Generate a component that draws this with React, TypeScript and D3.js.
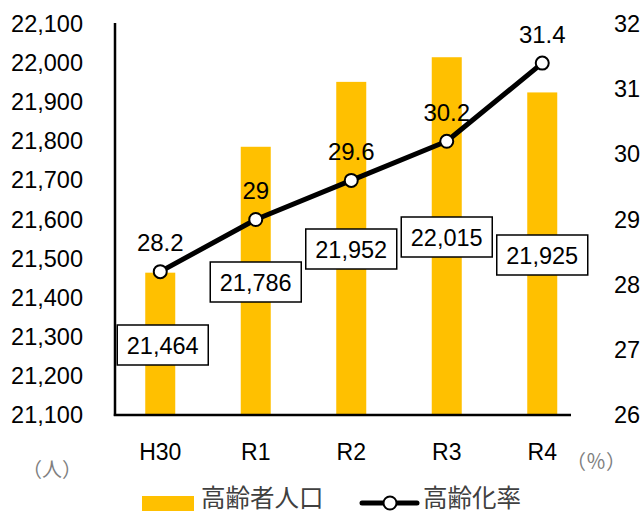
import React from "react";
import * as d3 from "d3";

const categories = ["H30", "R1", "R2", "R3", "R4"];
const population = [21464, 21786, 21952, 22015, 21925];
const agingRate = [28.2, 29, 29.6, 30.2, 31.4];
const leftTicks = [21100, 21200, 21300, 21400, 21500, 21600, 21700, 21800, 21900, 22000, 22100];
const rightTicks = [26, 27, 28, 29, 30, 31, 32];
// manual label box centre (y, px) as in the reference
const barLabelY = [345, 282, 249, 237, 255];

const W = 643;
const H = 513;
const NUM_FONT = "'Liberation Sans', Arial, sans-serif";
const JP_FONT = "'Noto Sans CJK JP', sans-serif";
const BAR = "#FFC000";

export default function App() {
  const x = d3.scaleBand<string>().domain(categories).range([112.5, 590]).padding(0);
  const yL = d3.scaleLinear().domain([21100, 22100]).range([415, 24]);
  const yR = d3.scaleLinear().domain([26, 32]).range([415, 24]);
  const cx = (c: string) => (x(c) as number) + x.bandwidth() / 2;
  const barW = 30;
  const fmt = d3.format(",");
  const line = d3
    .line<number>()
    .x((_, i) => cx(categories[i]))
    .y((d) => yR(d));

  return (
    <svg
      width={W}
      height={H}
      style={{ position: "absolute", left: 0, top: 0, background: "#fff" }}
    >
      {/* bars */}
      {population.map((v, i) => (
        <rect
          key={"b" + i}
          x={cx(categories[i]) - barW / 2}
          y={yL(v)}
          width={barW}
          height={yL(21100) - yL(v)}
          fill={BAR}
        />
      ))}
      {/* axes lines */}
      <line x1={115} x2={115} y1={23} y2={416} stroke="#000" strokeWidth={2.5} />
      <line x1={113.8} x2={571} y1={415} y2={415} stroke="#000" strokeWidth={2.5} />
      {/* left ticks */}
      {leftTicks.map((t) => (
        <text
          key={"l" + t}
          x={83}
          y={yL(t)}
          textAnchor="end"
          dominantBaseline="central"
          fontFamily={NUM_FONT}
          fontSize={23.5}
          fill="#000"
        >
          {fmt(t)}
        </text>
      ))}
      {/* right ticks */}
      {rightTicks.map((t) => (
        <text
          key={"r" + t}
          x={614}
          y={yR(t)}
          textAnchor="start"
          dominantBaseline="central"
          fontFamily={NUM_FONT}
          fontSize={23.5}
          fill="#000"
        >
          {t}
        </text>
      ))}
      {/* category labels */}
      {categories.map((c) => (
        <text
          key={"c" + c}
          x={cx(c)}
          y={452}
          textAnchor="middle"
          dominantBaseline="central"
          fontFamily={NUM_FONT}
          fontSize={23}
          fill="#000"
        >
          {c}
        </text>
      ))}
      {/* units */}
      <text x={52} y={468} textAnchor="middle" dominantBaseline="central" fontFamily={JP_FONT} fontSize={20} fill="#7f7f7f">
        （人）
      </text>
      <text x={596} y={460} textAnchor="middle" dominantBaseline="central" fontFamily={JP_FONT} fontSize={20} fill="#7f7f7f">
        （％）
      </text>
      {/* line */}
      <path d={line(agingRate) || ""} fill="none" stroke="#000" strokeWidth={5} strokeLinejoin="round" />
      {agingRate.map((v, i) => (
        <circle key={"p" + i} cx={cx(categories[i])} cy={yR(v)} r={6.5} fill="#fff" stroke="#000" strokeWidth={2} />
      ))}
      {agingRate.map((v, i) => (
        <text
          key={"pl" + i}
          x={cx(categories[i])}
          y={yR(v) - 29}
          textAnchor="middle"
          dominantBaseline="central"
          fontFamily={NUM_FONT}
          fontSize={24}
          fill="#000"
        >
          {v}
        </text>
      ))}
      {/* bar value boxes */}
      {population.map((v, i) => {
        const bx = cx(categories[i]) + (i === 0 ? 2.5 : 0);
        const by = barLabelY[i];
        return (
          <g key={"bl" + i}>
            <rect x={bx - 45.5} y={by - 20} width={91} height={40} fill="#fff" stroke="#000" strokeWidth={1.5} />
            <text
              x={bx}
              y={by + 1}
              textAnchor="middle"
              dominantBaseline="central"
              fontFamily={NUM_FONT}
              fontSize={23.5}
              fill="#000"
            >
              {fmt(v)}
            </text>
          </g>
        );
      })}
      {/* legend */}
      <rect x={142} y={496} width={52} height={15} fill={BAR} />
      <text x={201} y={496} dominantBaseline="central" fontFamily={JP_FONT} fontSize={24.5} fill="#404040">
        高齢者人口
      </text>
      <line x1={362} x2={417} y1={503} y2={503} stroke="#000" strokeWidth={5} strokeLinecap="round" />
      <circle cx={390} cy={503} r={6.5} fill="#fff" stroke="#000" strokeWidth={2} />
      <text x={423} y={496} dominantBaseline="central" fontFamily={JP_FONT} fontSize={24.5} fill="#404040">
        高齢化率
      </text>
    </svg>
  );
}
